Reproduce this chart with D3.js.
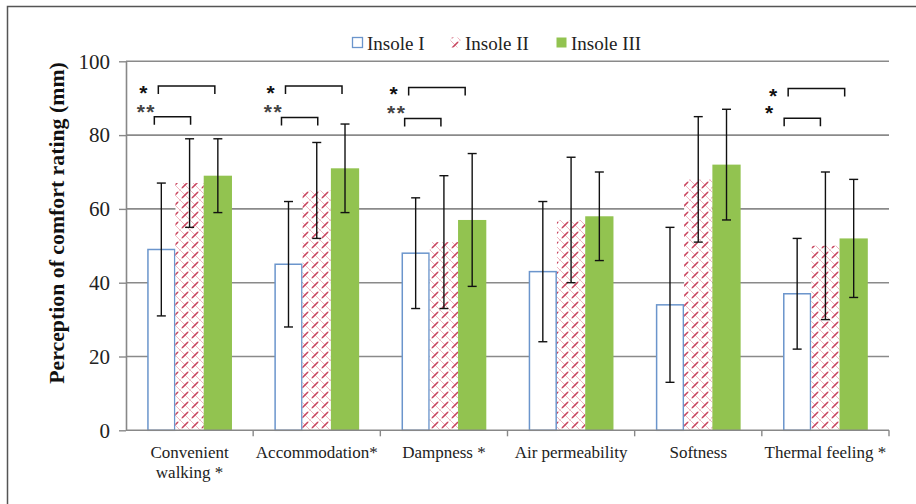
<!DOCTYPE html>
<html>
<head>
<meta charset="utf-8">
<script src="https://cdn.jsdelivr.net/npm/d3@7"></script>
<style>
  body { margin: 0; background: #fff; }
  svg { display: block; }
</style>
</head>
<body>
<div id="chart"></div>
<script>
// categories and series
var categories = ["Convenient walking *", "Accommodation*", "Dampness *", "Air permeability", "Softness", "Thermal feeling *"];
var catLines = [["Convenient", "walking *"], ["Accommodation*"], ["Dampness *"], ["Air permeability"], ["Softness"], ["Thermal feeling *"]];
var series = ["Insole I", "Insole II", "Insole III"];

// mean values (mm)
var insole1 = [49, 45, 48, 43, 34, 37];
var insole2 = [67, 65, 51, 57, 68, 50];
var insole3 = [69, 71, 57, 58, 72, 52];

// standard deviations
var sd1 = [18, 17, 15, 19, 21, 15];
var sd2 = [12, 13, 18, 17, 17, 20];
var sd3 = [10, 12, 18, 12, 15, 16];

var yTicks = [0, 20, 40, 60, 80, 100];

// significance brackets: category, bars compared, height (value units), label
var brackets = [
  {cat: 0, a: 0, b: 2, level: 93.3, label: "*"},
  {cat: 0, a: 0, b: 1, level: 85.0, label: "**"},
  {cat: 1, a: 0, b: 2, level: 93.3, label: "*"},
  {cat: 1, a: 0, b: 1, level: 84.8, label: "**"},
  {cat: 2, a: 0, b: 2, level: 92.9, label: "*"},
  {cat: 2, a: 0, b: 1, level: 84.5, label: "**"},
  {cat: 5, a: 0, b: 2, level: 92.6, label: "*"},
  {cat: 5, a: 0, b: 1, level: 84.6, label: "*"}
];
// hand placed nudges of the annotations (px)
var bracketNudge = [-3, -3, -7, 0, 0, -9];

var values = [insole1, insole2, insole3];
var sds = [sd1, sd2, sd3];

var W = 916, H = 504;
var mLeft = 126, mRight = 889, mTop = 61.3, mBottom = 430.3;

var svg = d3.select("#chart").append("svg")
  .attr("width", W).attr("height", H);

// hatch pattern for Insole II
var defs = svg.append("defs");
var pat = defs.append("pattern")
  .attr("id", "hatch")
  .attr("patternUnits", "userSpaceOnUse")
  .attr("width", 10).attr("height", 10);
pat.append("rect").attr("width", 10).attr("height", 10).attr("fill", "#fff");
pat.append("path").attr("d", "M0,0 L10,10 M-2,8 L2,12 M8,-2 L12,2")
  .attr("stroke", "#eeb6c0").attr("stroke-width", 1.0);
pat.append("path").attr("d", "M0,10 L10,0 M-2,2 L2,-2 M8,12 L12,8")
  .attr("stroke", "#f5d0d6").attr("stroke-width", 0.9);
pat.append("path").attr("d", "M2,8 L8,2")
  .attr("stroke", "#c8445e").attr("stroke-width", 1.6);

var fills = ["#fff", "url(#hatch)", "#92c350"];
var strokes = ["#6b95cc", "none", "none"];

// frame
svg.append("path")
  .attr("d", "M7.5,1000 L7.5,6.5 L1000,6.5")
  .attr("fill", "none").attr("stroke", "#555").attr("stroke-width", 1.5);

// scales
var x0 = d3.scaleBand().domain(categories).range([mLeft, mRight]);
var x1 = d3.scaleBand().domain(series).range([0, x0.bandwidth()]).paddingOuter(0.75);
var y = d3.scaleLinear().domain([0, 100]).range([mBottom, mTop]);

function cx(ci, si) {
  return x0(categories[ci]) + x1(series[si]) + x1.bandwidth() / 2;
}

// gridlines
svg.append("g").selectAll("line")
  .data(yTicks.filter(function(t) { return t > 0; }))
  .enter().append("line")
  .attr("x1", mLeft).attr("x2", mRight)
  .attr("y1", function(d) { return y(d); })
  .attr("y2", function(d) { return y(d); })
  .attr("stroke", "#8a8a8a").attr("stroke-width", 1.6);

// bars
series.forEach(function(s, si) {
  svg.append("g").selectAll("rect")
    .data(values[si])
    .enter().append("rect")
    .attr("x", function(d, i) { return x0(categories[i]) + x1(s) + (si == 0 ? 0.75 : 0); })
    .attr("y", function(d) { return y(d); })
    .attr("width", x1.bandwidth() - (si == 0 ? 1.5 : 0))
    .attr("height", function(d) { return y(0) - y(d); })
    .attr("fill", fills[si])
    .attr("stroke", strokes[si])
    .attr("stroke-width", 1.5);
});

// error bars
series.forEach(function(s, si) {
  var g = svg.append("g").attr("stroke", "#111").attr("stroke-width", 1.4);
  values[si].forEach(function(v, i) {
    var x = cx(i, si);
    var hi = y(v + sds[si][i]), lo = y(v - sds[si][i]);
    g.append("line").attr("x1", x).attr("x2", x).attr("y1", hi).attr("y2", lo);
    g.append("line").attr("x1", x - 4.5).attr("x2", x + 4.5).attr("y1", hi).attr("y2", hi);
    g.append("line").attr("x1", x - 4.5).attr("x2", x + 4.5).attr("y1", lo).attr("y2", lo);
  });
});

// y axis
var yAxis = svg.append("g")
  .attr("transform", "translate(" + mLeft + ",0)")
  .call(d3.axisLeft(y).tickValues(yTicks).tickSize(7).tickSizeOuter(0).tickPadding(9));
yAxis.attr("font-family", "Liberation Serif").attr("font-size", 21);
yAxis.select(".domain").attr("stroke", "#888").attr("stroke-width", 1.6);
yAxis.selectAll(".tick line").attr("stroke", "#888").attr("stroke-width", 1.4);
yAxis.selectAll(".tick text").attr("fill", "#222");

// x axis line and ticks at category boundaries
svg.append("line")
  .attr("x1", mLeft).attr("x2", mRight)
  .attr("y1", y(0)).attr("y2", y(0))
  .attr("stroke", "#888").attr("stroke-width", 1.6);
svg.append("g").selectAll("line")
  .data(categories)
  .enter().append("line")
  .attr("x1", function(d) { return x0(d) + x0.bandwidth(); })
  .attr("x2", function(d) { return x0(d) + x0.bandwidth(); })
  .attr("y1", y(0)).attr("y2", y(0) + 6)
  .attr("stroke", "#888").attr("stroke-width", 1.4);

// category labels
var labs = svg.append("g")
  .attr("font-family", "Liberation Serif").attr("font-size", 17).attr("fill", "#222")
  .attr("text-anchor", "middle");
catLines.forEach(function(lines, i) {
  var t = labs.append("text").attr("y", 458);
  lines.forEach(function(l, k) {
    t.append("tspan")
      .attr("x", x0(categories[i]) + x0.bandwidth() / 2)
      .attr("dy", k == 0 ? 0 : 19.5)
      .text(l);
  });
});

// y title
svg.append("text")
  .attr("transform", "translate(56,223) rotate(-90)")
  .attr("text-anchor", "middle").attr("dy", "0.35em")
  .attr("font-family", "Liberation Serif").attr("font-weight", "bold")
  .attr("font-size", 21.8).attr("fill", "#111")
  .text("Perception of comfort rating (mm)");

// significance brackets
var bg = svg.append("g");
brackets.forEach(function(b) {
  var n = bracketNudge[b.cat];
  var wide = b.b - b.a == 1 ? 4 : 0;
  var xa = cx(b.cat, b.a) + n - wide, xb = cx(b.cat, b.b) + n + wide;
  var yt = y(b.level);
  bg.append("path")
    .attr("d", "M" + xa + "," + (yt + 8) + " L" + xa + "," + yt + " L" + xb + "," + yt + " L" + xb + "," + (yt + 8))
    .attr("fill", "none").attr("stroke", "#111").attr("stroke-width", 1.5);
  var upper = b.b - b.a == 2;
  var dbl = b.label.length == 2;
  bg.append("text")
    .attr("x", xa - (dbl ? 8 : 15))
    .attr("y", upper ? yt + 14 : yt + 2)
    .attr("text-anchor", "middle")
    .attr("font-family", "Liberation Sans").attr("font-weight", "bold")
    .attr("font-size", 21)
    .attr("letter-spacing", dbl ? 1.5 : 0)
    .attr("fill", dbl ? "#444" : "#111")
    .text(b.label);
});

// legend
var legX = [352, 450, 556];
var leg = svg.append("g");
series.forEach(function(s, si) {
  leg.append("rect")
    .attr("x", legX[si] + 0.5).attr("y", 37.5)
    .attr("width", 10).attr("height", 10)
    .attr("fill", fills[si])
    .attr("stroke", strokes[si]).attr("stroke-width", 1.3);
  leg.append("text")
    .attr("x", legX[si] + 15).attr("y", 50)
    .attr("font-family", "Liberation Serif").attr("font-size", 19).attr("fill", "#222")
    .text(s);
});
</script>
</body>
</html>
